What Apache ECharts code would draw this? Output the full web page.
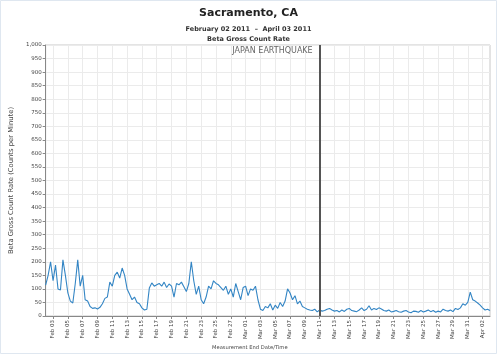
<!DOCTYPE html>
<html>
<head>
<meta charset="utf-8">
<script src="https://cdn.jsdelivr.net/npm/echarts@6/dist/echarts.min.js"></script>
<style>
  html, body { margin: 0; padding: 0; background: #fff; }
  #chart { width: 497px; height: 354px; }
</style>
</head>
<body>
<div id="chart"></div>
<script>
// Beta gross count rate, Sacramento CA, sampled every 8 hours from Feb 02 2011 00:00.
const startDate = new Date(2011, 1, 2, 0, 0, 0);
const stepHours = 8;
const monthNames = ['Jan', 'Feb', 'Mar', 'Apr', 'May', 'Jun', 'Jul', 'Aug', 'Sep', 'Oct', 'Nov', 'Dec'];

// Counts per minute, three readings per day
const countRate = [
  114, 150, 200,   130, 188, 100,   96, 207, 150,   85, 55, 48,
  120, 207, 110,   150, 60, 55,     35, 28, 30,     26, 32, 45,
  65, 70, 125,     110, 150, 162,   140, 177, 150,  100, 80, 60,
  70, 50, 45,      30, 22, 25,      103, 122, 110,  115, 120, 110,
  125, 105, 118,   110, 70, 120,    115, 125, 108,  90, 120, 200,
  130, 80, 110,    60, 45, 70,      110, 100, 130,  120, 115, 105,
  95, 110, 80,     100, 70, 120,    90, 60, 105,    110, 75, 100,
  95, 110, 60,     25, 20, 35,      30, 45, 22,     40, 28, 50,
  35, 55, 100,     85, 60, 75,      45, 55, 35,     30, 25, 22,
  20, 25, 15,      22, 18, 20,      25, 28, 22,     18, 20, 15,
  22, 17, 25,      28, 20, 18,      16, 22, 30,     20, 25, 38,
  22, 28, 24,      30, 26, 20,      18, 22, 15,     17, 20, 16,
  14, 18, 20,      15, 12, 18,      17, 14, 20,     15, 18, 22,
  16, 20, 14,      18, 15, 25,      20, 18, 22,     16, 28, 24,
  30, 45, 40,      50, 88, 60,      55, 48, 40,     30, 22, 25,
  20
];

// Event marker
const eventDate = new Date(2011, 2, 11, 0, 0, 0);
const eventLabel = 'JAPAN EARTHQUAKE';

function pad2(n) { return (n < 10 ? '0' : '') + n; }

const timeStamps = countRate.map((_, i) => new Date(startDate.getTime() + i * stepHours * 3600 * 1000));
const categories = timeStamps.map(d => monthNames[d.getMonth()] + ' ' + pad2(d.getDate()) + ' ' + pad2(d.getHours()) + ':00');
const eventIndex = timeStamps.findIndex(d => d.getTime() === eventDate.getTime());

// Label every second day, on the odd days
const perDay = 24 / stepHours;
const showTick = (idx) => idx % (2 * perDay) === perDay;

const chart = echarts.init(document.getElementById('chart'), null, { renderer: 'canvas' });

chart.setOption({
  animation: false,
  backgroundColor: '#ffffff',
  textStyle: { fontFamily: 'DejaVu Sans' },
  title: [
    {
      text: 'Sacramento, CA',
      left: 'center',
      top: 3,
      textStyle: { fontSize: 11, fontWeight: 'bold', color: '#222', fontFamily: 'DejaVu Sans' }
    },
    {
      text: 'February 02 2011  \u2013  April 03 2011\nBeta Gross Count Rate',
      left: 'center',
      top: 19,
      textStyle: { fontSize: 6.5, fontWeight: 'bold', color: '#333', lineHeight: 10, fontFamily: 'DejaVu Sans' }
    }
  ],
  graphic: [
    {
      type: 'text',
      left: 212,
      top: 345,
      style: { text: 'Measurement End Date/Time', fontSize: 5.2, fill: '#444', fontFamily: 'DejaVu Sans' }
    },
    {
      type: 'rect',
      shape: { x: 0.5, y: 0.5, width: 496, height: 353 },
      style: { fill: 'none', stroke: '#dfe7f0', lineWidth: 1 },
      silent: true
    }
  ],
  grid: { left: 44, right: 7, top: 45, bottom: 38, show: true, borderColor: '#c8c8c8', borderWidth: 1 },
  xAxis: {
    type: 'category',
    data: categories,
    boundaryGap: false,
    axisLine: { lineStyle: { color: '#888', width: 1 } },
    axisTick: { interval: (idx) => showTick(idx), length: 3, lineStyle: { color: '#888' } },
    axisLabel: {
      interval: (idx) => showTick(idx),
      rotate: 90,
      fontSize: 5.5,
      color: '#444',
      margin: 4,
      formatter: (v) => v.slice(0, 6)
    },
    splitLine: { show: true, interval: (idx) => showTick(idx), lineStyle: { color: '#ebebeb', width: 1 } }
  },
  yAxis: {
    type: 'value',
    min: 0,
    max: 1000,
    interval: 50,
    name: 'Beta Gross Count Rate (Counts per Minute)',
    nameLocation: 'middle',
    nameGap: 30,
    nameTextStyle: { fontSize: 6.8, color: '#444' },
    axisLine: { show: true, lineStyle: { color: '#888' } },
    axisTick: { show: true, length: 3, lineStyle: { color: '#888' } },
    axisLabel: {
      fontSize: 5.5,
      color: '#444',
      margin: 4,
      formatter: (v) => v.toLocaleString('en-US')
    },
    splitLine: { lineStyle: { color: '#ebebeb', width: 1 } }
  },
  series: [
    {
      type: 'line',
      data: countRate,
      showSymbol: false,
      lineStyle: { color: '#3385c4', width: 1.1 },
      itemStyle: { color: '#3385c4' },
      markLine: {
        silent: true,
        symbol: ['none', 'none'],
        label: { show: false },
        lineStyle: { color: '#555', width: 2, type: 'solid' },
        data: [{ xAxis: eventIndex }]
      },
      markPoint: {
        silent: true,
        symbol: 'circle',
        symbolSize: 0,
        data: [{ coord: [eventIndex, 1000], value: eventLabel }],
        label: {
          show: true,
          position: 'left',
          offset: [-2, 6],
          formatter: eventLabel,
          fontSize: 8,
          color: '#666'
        }
      }
    }
  ]
});
</script>
</body>
</html>
